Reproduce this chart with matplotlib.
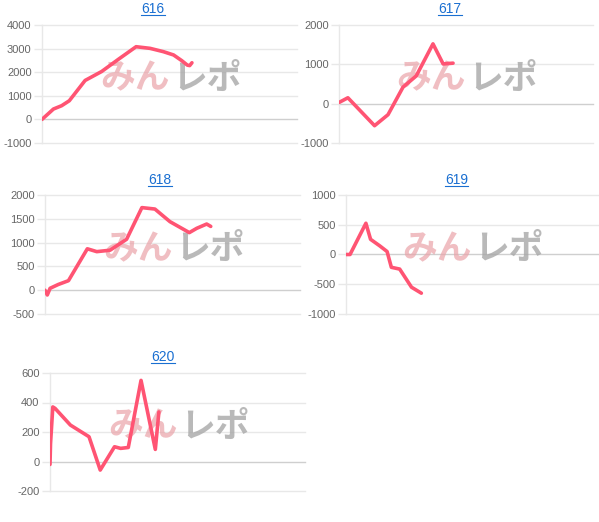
import matplotlib
matplotlib.use("Agg")
import matplotlib.pyplot as plt
from matplotlib.lines import Line2D

plt.rcParams['font.family'] = ['Liberation Sans', 'DejaVu Sans']

# ---- data ----
titles = ["616", "617", "618", "619", "620"]

x616 = [0, 4.5, 7.7, 10.7, 16.9, 23.4, 30, 36.9, 42.4, 47.6, 51.6, 54.8, 57, 57.9, 58.8]
y616 = [0, 440, 580, 790, 1650, 2030, 2550, 3080, 3010, 2870, 2730, 2490, 2300, 2280, 2400]

x617 = [0, 3.5, 14, 19.3, 25.2, 30.4, 37, 41, 44.9]
y617 = [30, 150, -560, -280, 420, 705, 1520, 1010, 1030]

x618 = [0, 0.9, 2, 5.2, 9.2, 16.6, 20.3, 25.5, 32, 38, 43.1, 49, 56.6, 59.5, 63.4, 65]
y618 = [0, -100, 40, 120, 200, 870, 810, 840, 1070, 1735, 1705, 1440, 1210, 1300, 1390, 1340]

x619 = [0, 1.6, 7.9, 9.75, 13.4, 16.3, 18, 21.3, 26, 29.9]
y619 = [0, 0, 525, 255, 145, 50, -215, -245, -550, -650]

x620 = [0, 0.2, 1.1, 2, 8, 15.3, 19.7, 25.3, 27.7, 30.7, 35.7, 41.3, 42.7]
y620 = [-20, 120, 370, 360, 247, 168, -58, 100, 89, 95, 550, 82, 336]

yticks616 = [-1000, 0, 1000, 2000, 3000, 4000]
yticks617 = [-1000, 0, 1000, 2000]
yticks618 = [-500, 0, 500, 1000, 1500, 2000]
yticks619 = [-1000, -500, 0, 500, 1000]
yticks620 = [-200, 0, 200, 400, 600]

n_slots = 100

series = [(x616, y616, yticks616), (x617, y617, yticks617), (x618, y618, yticks618),
          (x619, y619, yticks619), (x620, y620, yticks620)]

# axes boxes in pixels: left, right, top, bottom
W, H = 599, 522
boxes = [(42, 297, 25, 143), (339, 593, 25, 143), (45, 300, 195, 314),
         (346, 598, 195, 314), (50, 305, 373, 491)]
# title centres in pixels (x, y)
title_pos = [(153, 9), (450, 9), (160, 180), (457, 180), (163, 357)]

fig = plt.figure(figsize=(W / 100, H / 100), dpi=100)

line_color = '#ff5473'
grid_color = '#e8e8e8'
zero_color = '#cfcfcf'
label_color = '#666666'
title_color = '#1a6fd1'

title_objs = []
for (xs, ys, yt), title, (l, r, t, b), (tx, ty) in zip(series, titles, boxes, title_pos):
    ax = fig.add_axes([l / W, 1 - b / H, (r - l) / W, (b - t) / H])
    ax.set_xlim(0, n_slots)
    ax.set_ylim(yt[0], yt[-1])
    ax.set_yticks(yt)
    ax.set_yticklabels([str(v) for v in yt])
    ax.set_xticks([])
    for v in yt:
        ax.axhline(v, color=zero_color if v == 0 else grid_color,
                   lw=1.0, zorder=1, clip_on=False)
    for s in ['top', 'right', 'bottom']:
        ax.spines[s].set_visible(False)
    ax.spines['left'].set_color(grid_color)
    ax.spines['left'].set_linewidth(1.0)
    ax.tick_params(axis='y', length=6, width=1.0, color=grid_color,
                   labelcolor=label_color, labelsize=8, pad=1.5)
    # watermark
    ax.text(0.5, 0.55, "みん", transform=ax.transAxes, ha='right', va='center',
            fontsize=25, fontweight='bold', color='#eaa3a9', alpha=0.7,
            family=['Noto Sans CJK JP', 'DejaVu Sans'], zorder=2)
    ax.text(0.51, 0.55, "レポ", transform=ax.transAxes, ha='left', va='center',
            fontsize=25, fontweight='bold', color='#a8a8a8', alpha=0.8,
            family=['Noto Sans CJK JP', 'DejaVu Sans'], zorder=2)
    ax.plot(xs, ys, color=line_color, lw=2.6, solid_joinstyle='round',
            solid_capstyle='round', zorder=3)
    tt = fig.text(tx / W, 1 - ty / H, title, color=title_color, fontsize=10,
                  ha='center', va='center')
    title_objs.append(tt)

# underline titles like links
fig.canvas.draw()
renderer = fig.canvas.get_renderer()
for tt in title_objs:
    bb = tt.get_window_extent(renderer)
    y = (bb.y0 + 1) / H
    fig.add_artist(Line2D([bb.x0 / W, bb.x1 / W], [y, y], color=title_color,
                          lw=0.8, transform=fig.transFigure))

fig.savefig('out.png', dpi=100)
